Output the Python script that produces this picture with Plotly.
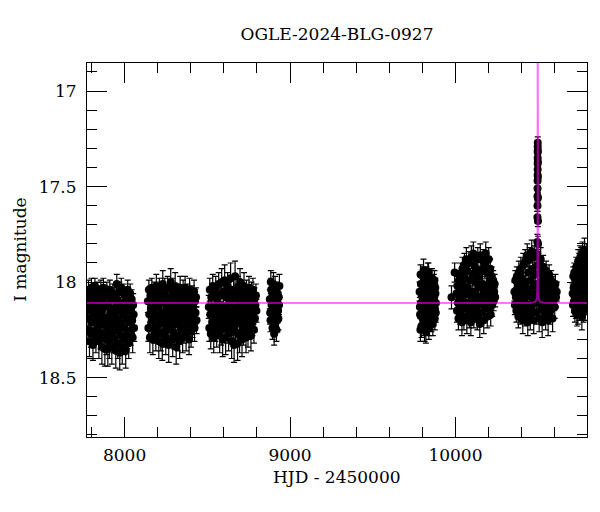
import plotly.graph_objects as go

# (HJD-2450000, I mag, error), grouped by observing season
season_2017 = [
(7776,18.12,.06),(7779,18.25,.07),(7782,18.04,.05),(7785,18.19,.06),(7788,18.31,.08),(7791,18.08,.05),
(7794,18.15,.06),(7797,18.27,.07),(7800,18.03,.05),(7803,18.21,.06),(7806,18.11,.06),(7809,18.33,.08),
(7812,18.06,.05),(7815,18.17,.07),(7818,18.26,.06),(7821,18.02,.04),(7824,18.14,.06),(7827,18.29,.08),
(7830,18.09,.05),(7833,18.20,.07),(7836,18.05,.05),(7839,18.24,.07),(7842,18.13,.06),(7845,18.31,.09),
(7848,18.07,.05),(7851,18.18,.06),(7854,18.27,.08),(7857,18.04,.05),(7860,18.16,.06),(7863,18.34,.09),
(7866,18.10,.05),(7869,18.22,.07),(7872,18.03,.05),(7875,18.28,.08),(7878,18.13,.06),(7881,18.35,.09),
(7884,18.07,.05),(7887,18.19,.07),(7890,18.30,.08),(7893,18.05,.05),(7896,18.24,.07),(7899,18.35,.09),
(7902,18.12,.06),(7905,18.21,.07),(7908,18.32,.08),(7911,18.04,.05),(7914,18.16,.06),(7917,18.27,.08),
(7920,18.09,.06),(7923,18.34,.09),(7926,18.19,.07),(7929,18.06,.05),(7932,18.29,.08),(7935,18.14,.06),
(7938,18.23,.07),(7941,18.08,.05),(7944,18.18,.06),(7947,18.36,.09),(7950,18.13,.06),(7953,18.01,.05),
(7956,18.25,.07),(7959,18.32,.08),(7962,18.10,.06),(7965,18.20,.07),(7968,18.05,.05),(7971,18.37,.09),
(7974,18.15,.06),(7977,18.28,.08),(7980,18.03,.05),(7983,18.22,.07),(7986,18.34,.09),(7989,18.11,.06),
(7992,18.17,.06),(7995,18.06,.05),(7998,18.30,.08),(8001,18.24,.07),(8004,18.13,.06),(8007,18.36,.09),
(8010,18.08,.05),(8013,18.19,.07),(8016,18.27,.08),(8019,18.04,.05),(8022,18.15,.06),(8025,18.32,.08),
(8028,18.10,.06),(8031,18.21,.07),(8034,18.06,.05),(8037,18.26,.07),(8040,18.14,.06),(8043,18.09,.05),
(8046,18.20,.07),(8049,18.29,.08),(8052,18.12,.06),(8055,18.17,.06),(8058,18.24,.07)]

season_2018 = [
(8141,18.10,.06),(8144,18.24,.07),(8147,18.04,.05),(8150,18.17,.06),(8153,18.29,.08),(8156,18.07,.05),
(8159,18.14,.06),(8162,18.22,.07),(8165,18.03,.05),(8168,18.19,.06),(8171,18.30,.08),(8174,18.09,.05),
(8177,18.15,.06),(8180,18.25,.07),(8183,18.05,.05),(8186,18.12,.06),(8189,18.28,.08),(8192,18.02,.06),
(8195,18.18,.06),(8198,18.08,.05),(8201,18.23,.07),(8204,18.13,.06),(8207,18.31,.09),(8210,18.04,.06),
(8213,18.20,.07),(8216,18.11,.05),(8219,18.27,.09),(8222,18.06,.06),(8225,18.16,.06),(8228,18.32,.09),
(8231,18.01,.07),(8234,18.21,.07),(8237,18.10,.06),(8240,18.26,.08),(8243,18.05,.07),(8246,18.17,.06),
(8249,18.29,.09),(8252,18.08,.06),(8255,18.14,.06),(8258,18.23,.08),(8261,18.03,.06),(8264,18.19,.07),
(8267,18.33,.09),(8270,18.09,.06),(8273,18.15,.06),(8276,18.25,.07),(8279,18.00,.07),(8282,18.12,.06),
(8285,18.21,.07),(8288,18.04,.06),(8291,18.30,.09),(8294,18.18,.06),(8297,18.07,.05),(8300,18.27,.08),
(8303,18.13,.06),(8306,18.02,.07),(8309,18.22,.07),(8312,18.34,.09),(8315,18.10,.06),(8318,18.16,.06),
(8321,18.06,.05),(8324,18.28,.08),(8327,18.20,.07),(8330,18.11,.06),(8333,18.31,.09),(8336,18.03,.06),
(8339,18.24,.07),(8342,18.14,.06),(8345,18.08,.05),(8348,18.19,.07),(8351,18.29,.08),(8354,18.05,.06),
(8357,18.16,.06),(8360,18.25,.07),(8363,18.12,.06),(8366,18.03,.06),(8369,18.21,.07),(8372,18.28,.08),
(8375,18.09,.06),(8378,18.17,.06),(8381,18.06,.05),(8384,18.23,.07),(8387,18.13,.06),(8390,18.30,.08),
(8393,18.04,.06),(8396,18.19,.06),(8399,18.10,.06),(8402,18.26,.08),(8405,18.15,.06),(8408,18.07,.05),
(8411,18.22,.07),(8414,18.12,.06),(8417,18.18,.06),(8420,18.05,.06),(8423,18.24,.07),(8426,18.10,.06),
(8429,18.16,.06),(8432,18.08,.05),(8435,18.20,.07)]

season_2019 = [
(8509,18.13,.06),(8512,18.24,.07),(8515,18.04,.06),(8518,18.17,.06),(8521,18.27,.08),(8524,18.08,.05),
(8527,18.15,.06),(8530,18.21,.07),(8533,18.02,.06),(8536,18.19,.06),(8539,18.29,.08),(8542,18.06,.05),
(8545,18.13,.06),(8548,18.24,.07),(8551,18.03,.06),(8554,18.16,.06),(8557,18.26,.08),(8560,18.09,.05),
(8563,18.14,.06),(8566,18.22,.07),(8569,18.01,.06),(8572,18.18,.06),(8575,18.28,.09),(8578,18.07,.05),
(8581,18.12,.06),(8584,18.25,.08),(8587,18.00,.07),(8590,18.17,.06),(8593,18.30,.09),(8596,18.05,.06),
(8599,18.14,.06),(8602,18.22,.08),(8605,17.99,.08),(8608,18.19,.07),(8611,18.29,.09),(8614,18.08,.06),
(8617,18.13,.06),(8620,18.24,.08),(8623,18.02,.07),(8626,18.16,.06),(8629,18.27,.09),(8632,18.06,.06),
(8635,18.11,.06),(8638,18.21,.07),(8641,17.98,.08),(8644,18.18,.06),(8647,18.31,.09),(8650,18.09,.06),
(8653,18.15,.06),(8656,18.23,.07),(8659,18.04,.06),(8662,18.33,.09),(8665,18.17,.06),(8668,17.97,.08),
(8671,18.26,.08),(8674,18.07,.06),(8677,18.13,.06),(8680,18.20,.07),(8683,18.32,.09),(8686,18.03,.06),
(8689,18.16,.06),(8692,18.11,.06),(8695,18.28,.09),(8698,18.00,.07),(8701,18.22,.07),(8704,18.14,.06),
(8707,18.06,.06),(8710,18.30,.09),(8713,18.18,.06),(8716,18.09,.06),(8719,18.25,.08),(8722,18.02,.07),
(8725,18.15,.06),(8728,18.21,.07),(8731,18.12,.06),(8734,18.29,.08),(8737,18.05,.06),(8740,18.19,.07),
(8743,18.08,.06),(8746,18.26,.08),(8749,18.14,.06),(8752,18.03,.06),(8755,18.23,.07),(8758,18.10,.06),
(8761,18.17,.06),(8764,18.28,.08),(8767,18.06,.06),(8770,18.13,.06),(8773,18.21,.07),(8776,18.04,.06),
(8779,18.16,.06),(8782,18.25,.07),(8785,18.09,.06),(8788,18.19,.07),(8791,18.12,.06),(8794,18.07,.06),
(8797,18.15,.06)]

season_2020 = [
(8878,18.09,.05),(8880,18.16,.06),(8882,18.20,.06),(8884,18.00,.06),(8886,18.04,.06),(8888,18.12,.05),
(8890,18.15,.05),(8892,18.08,.05),(8894,18.24,.06),(8896,18.18,.06),(8898,18.07,.05),(8900,18.01,.06),
(8902,18.13,.05),(8904,18.27,.06),(8906,18.21,.06),(8908,18.11,.05),(8910,18.03,.06),(8912,18.09,.05),
(8914,18.17,.05),(8916,18.05,.05),(8918,18.25,.06),(8920,18.14,.05),(8922,18.10,.05),(8924,18.20,.06),
(8926,18.06,.05),(8928,18.15,.05),(8930,18.19,.06),(8932,18.08,.05),(8934,18.12,.05),(8936,18.02,.06)]

season_2022 = [
(9783,18.05,.05),(9785,18.13,.05),(9786,18.17,.06),(9788,18.25,.06),(9789,17.96,.05),(9791,18.01,.05),
(9792,18.11,.05),(9794,18.18,.06),(9795,18.23,.06),(9797,18.07,.05),(9798,18.01,.05),(9800,18.15,.05),
(9801,18.08,.05),(9803,17.97,.05),(9804,18.19,.06),(9806,18.04,.05),(9807,17.94,.06),(9809,18.22,.06),
(9810,18.14,.05),(9812,18.09,.05),(9813,18.25,.06),(9815,17.99,.05),(9816,18.03,.05),(9818,18.16,.05),
(9819,18.10,.05),(9821,18.26,.06),(9822,18.21,.06),(9824,18.05,.05),(9825,17.97,.05),(9827,18.12,.05),
(9828,18.13,.05),(9830,18.20,.06),(9831,18.06,.05),(9833,17.95,.05),(9834,18.18,.06),(9836,18.10,.05),
(9837,17.95,.05),(9839,18.24,.06),(9840,18.09,.05),(9842,18.02,.05),(9843,18.22,.06),(9845,18.14,.05),
(9846,18.02,.05),(9848,18.19,.06),(9849,18.15,.05),(9851,17.98,.05),(9852,18.07,.05),(9854,18.11,.05),
(9855,18.20,.06),(9857,18.04,.05),(9858,17.98,.05),(9860,18.16,.05),(9861,18.12,.05),(9863,18.22,.06),
(9864,18.04,.05),(9866,18.08,.05),(9867,18.17,.06),(9869,18.01,.05),(9870,18.09,.05),(9872,18.14,.05),
(9873,17.99,.05),(9875,18.19,.06),(9876,18.14,.05),(9878,18.03,.05),(9879,18.06,.05),(9881,18.16,.05),
(9882,18.11,.05)]

season_2023 = [
(9976,18.08,.06),(9995,17.95,.05),(10006,18.06,.05),(10009,18.15,.06),(10012,18.02,.05),(10015,18.11,.05),
(10018,18.19,.06),(10021,17.99,.05),(10024,18.08,.05),(10027,18.16,.06),(10030,17.96,.06),(10033,18.04,.05),
(10036,18.13,.06),(10039,18.21,.07),(10042,17.93,.06),(10045,18.01,.05),(10048,18.10,.05),(10051,18.18,.07),
(10054,17.91,.06),(10057,17.98,.05),(10060,18.06,.05),(10063,18.14,.06),(10066,17.88,.06),(10069,18.20,.07),
(10072,17.94,.05),(10075,18.03,.05),(10078,18.11,.06),(10081,17.90,.06),(10084,18.17,.07),(10087,17.99,.05),
(10090,18.07,.05),(10093,18.21,.07),(10096,17.87,.06),(10099,18.13,.06),(10102,17.96,.05),(10105,18.05,.05),
(10108,17.85,.06),(10111,18.18,.06),(10114,17.91,.06),(10117,18.10,.05),(10120,18.00,.05),(10123,18.15,.06),
(10126,17.93,.05),(10129,18.07,.05),(10132,18.19,.06),(10135,17.88,.06),(10138,18.03,.05),(10141,18.12,.06),
(10144,17.97,.05),(10147,18.22,.07),(10150,17.86,.06),(10153,18.08,.05),(10156,18.16,.06),(10159,17.94,.05),
(10162,18.01,.05),(10165,18.11,.06),(10168,17.89,.06),(10171,18.20,.07),(10174,18.05,.05),(10177,17.92,.06),
(10180,18.14,.06),(10183,17.85,.06),(10186,18.02,.05),(10189,18.09,.05),(10192,18.18,.06),(10195,17.95,.05),
(10198,18.06,.05),(10201,17.88,.06),(10204,18.13,.06),(10207,18.00,.05),(10210,17.93,.05),(10213,18.17,.06),
(10216,18.08,.05),(10219,17.97,.05),(10222,18.12,.06),(10225,18.03,.05),(10228,17.99,.05),(10231,18.10,.05),
(10234,18.05,.05),(10237,18.01,.05),(10240,18.08,.05)]

season_2024 = [
(10356,18.05,.05),(10359,18.12,.05),(10362,17.99,.05),(10365,18.08,.05),(10368,18.15,.06),(10371,17.97,.05),
(10374,18.04,.05),(10377,18.11,.05),(10380,18.18,.06),(10383,17.95,.06),(10386,18.01,.05),(10389,18.09,.05),
(10392,18.16,.06),(10395,17.93,.06),(10398,18.06,.05),(10401,18.13,.06),(10404,17.98,.05),(10407,18.20,.07),
(10410,17.91,.06),(10413,18.03,.05),(10416,18.10,.05),(10419,18.17,.06),(10422,17.89,.06),(10425,18.00,.05),
(10428,18.07,.05),(10431,18.14,.06),(10434,17.86,.06),(10437,18.21,.07),(10440,17.95,.05),(10443,18.04,.05),
(10446,18.12,.06),(10449,17.88,.06),(10452,18.18,.07),(10455,17.99,.05),(10458,18.08,.05),(10461,17.84,.06),
(10464,18.15,.06),(10467,17.93,.05),(10470,18.02,.05),(10473,18.20,.07),(10476,17.87,.06),(10479,18.11,.06),
(10482,17.96,.05),(10485,18.06,.05),(10488,17.85,.06),(10491,18.16,.06),(10494,18.01,.05),(10500,17.91,.06),
(10503,18.09,.05),(10506,18.19,.07),(10509,17.95,.05),(10512,18.04,.05),(10515,17.88,.06),(10518,18.13,.06),
(10521,17.99,.05),(10524,18.21,.08),(10527,18.07,.05),(10530,17.92,.06),(10533,18.15,.06),(10536,18.02,.05),
(10539,17.97,.05),(10542,18.11,.06),(10545,18.18,.07),(10548,17.94,.05),(10551,18.05,.05),(10554,18.13,.06),
(10557,18.00,.05),(10560,18.20,.08),(10563,18.08,.05),(10566,17.96,.05),(10569,18.16,.06),(10572,18.03,.05),
(10575,18.11,.05),(10578,17.99,.05),(10581,18.14,.06),(10584,18.06,.05),(10587,18.19,.07),(10590,18.02,.05),
(10593,18.10,.05),(10596,18.05,.05),(10600,18.13,.06),(10604,18.01,.05),(10608,18.08,.05),(10612,18.05,.05)]

event_peak = [
(10495.2,17.79,.04),(10495.5,17.66,.03),(10495.7,17.60,.03),(10495.9,17.55,.03),(10496.1,17.51,.03),
(10496.3,17.47,.03),(10496.5,17.44,.03),(10496.7,17.41,.03),(10496.9,17.38,.03),(10497.0,17.35,.03),
(10497.1,17.32,.03),(10497.2,17.29,.03),(10497.3,17.27,.03),(10497.6,17.31,.03),(10497.8,17.37,.03),
(10498.0,17.45,.03),(10498.3,17.56,.03),(10498.7,17.68,.03),(10499.2,17.80,.04)]

season_2025 = [
(10708,18.06,.05),(10710,18.12,.06),(10712,17.97,.05),(10714,18.03,.05),(10716,18.10,.06),(10718,17.95,.05),
(10720,18.02,.05),(10722,18.15,.06),(10724,17.99,.05),(10726,18.07,.05),(10728,18.13,.06),(10730,17.92,.05),
(10732,18.05,.05),(10734,18.17,.06),(10736,17.94,.05),(10738,18.01,.05),(10740,18.16,.06),(10742,17.89,.06),
(10744,18.08,.05),(10746,17.98,.05),(10748,17.91,.06),(10750,18.14,.06),(10752,18.03,.05),(10754,17.87,.06),
(10756,18.12,.06),(10758,18.00,.05),(10760,17.88,.06),(10762,18.09,.05),(10764,18.18,.07),(10766,17.95,.05),
(10768,17.85,.06),(10770,18.05,.05),(10772,17.99,.05),(10774,18.15,.06),(10776,18.07,.05),(10778,17.90,.06),
(10780,17.83,.06),(10782,18.02,.05),(10784,18.14,.06),(10786,17.97,.05),(10788,17.93,.05),(10790,18.11,.06),
(10792,18.04,.05),(10794,17.86,.06),(10796,17.89,.06)]

# OGLE model curve
model_t = [7770, 10450, 10475, 10485, 10490, 10493, 10495, 10496, 10496.6, 10497,
           10497.4, 10498, 10499, 10501, 10504, 10509, 10519, 10544, 10800]
model_mag = [18.11, 18.11, 18.105, 18.10, 18.09, 18.07, 18.02, 17.90, 17.55, 16.60,
             17.55, 17.90, 18.02, 18.07, 18.09, 18.10, 18.105, 18.11, 18.11]

x_range = [7773, 10795]
y_range = [18.811, 16.853]
title_text = "OGLE-2024-BLG-0927"
x_title = "HJD - 2450000"
y_title = "I magnitude"

FONT = "DejaVu Serif"

fig = go.Figure()
for season in [season_2017, season_2018, season_2019, season_2020, season_2022,
               season_2023, season_2024, event_peak, season_2025]:
    t = [p[0] for p in season]
    m = [p[1] for p in season]
    e = [p[2] for p in season]
    fig.add_trace(go.Scatter(
        x=t, y=m, mode="markers",
        marker=dict(color="black", size=8),
        error_y=dict(type="data", array=e, visible=True, color="black",
                     thickness=1.2, width=3),
        showlegend=False, hoverinfo="skip"))

fig.add_trace(go.Scatter(
    x=model_t, y=model_mag, mode="lines",
    line=dict(color="rgba(255,0,255,0.55)", width=2),
    showlegend=False, hoverinfo="skip"))

axis_common = dict(
    showline=True, linecolor="black", linewidth=1, mirror="allticks",
    ticks="inside", tickcolor="black", tickwidth=1, ticklen=20,
    showgrid=False, zeroline=False,
    tickfont=dict(family=FONT, size=17, color="black"),
)

fig.update_xaxes(range=x_range, tick0=8000, dtick=1000, tickformat="d",
                 minor=dict(dtick=200, ticks="inside", ticklen=10,
                            tickcolor="black", showgrid=False),
                 ticklabelstandoff=3, **axis_common)
fig.update_yaxes(range=y_range, tick0=17, dtick=0.5,
                 minor=dict(dtick=0.1, ticks="inside", ticklen=10,
                            tickcolor="black", showgrid=False),
                 ticklabelstandoff=6, **axis_common)

# page body has an 8px margin, so the figure is 8px smaller and shifted
W, H = 592, 504
fig.update_layout(
    width=W, height=H,
    margin=dict(l=79, r=13, t=55, b=75),
    paper_bgcolor="white", plot_bgcolor="white",
    title=dict(text=title_text, x=0.5, xref="paper", xanchor="center",
               y=1 - 26 / H, yref="container", yanchor="middle",
               font=dict(family=FONT, size=17, color="black")),
    annotations=[
        dict(text=x_title, xref="paper", yref="paper", x=0.5, y=-(477 - 436.7) / 374,
             xanchor="center", yanchor="middle", showarrow=False,
             font=dict(family=FONT, size=17, color="black")),
        dict(text=y_title, xref="paper", yref="paper", x=-(87.3 - 20) / 500, y=0.5,
             xanchor="center", yanchor="middle", textangle=-90, showarrow=False,
             font=dict(family=FONT, size=17, color="black")),
    ],
)

fig.write_html("out.html")
